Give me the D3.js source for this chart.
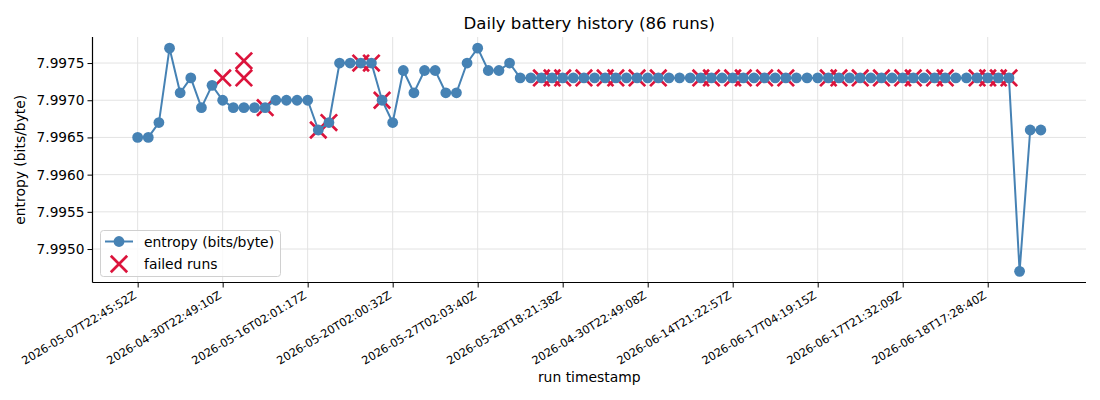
<!DOCTYPE html>
<html>
<head>
<meta charset="utf-8">
<script src="https://cdn.jsdelivr.net/npm/d3@7"></script>
<style>
  body { margin: 0; background: #fff; }
  text { font-family: "DejaVu Sans", sans-serif; fill: #000; }
</style>
</head>
<body>
<svg id="chart" width="1100" height="400"></svg>
<script>
// entropy per run, in run order
const entropy = [
  7.9965, 7.9965, 7.9967, 7.9977, 7.9971, 7.9973, 7.9969, 7.9972, 7.9970, 7.9969,
  7.9969, 7.9969, 7.9969, 7.9970, 7.9970, 7.9970, 7.9970, 7.9966, 7.9967, 7.9975,
  7.9975, 7.9975, 7.9975, 7.9970, 7.9967, 7.9974, 7.9971, 7.9974, 7.9974, 7.9971,
  7.9971, 7.9975, 7.9977, 7.9974, 7.9974, 7.9975, 7.9973, 7.9973, 7.9973, 7.9973,
  7.9973, 7.9973, 7.9973, 7.9973, 7.9973, 7.9973, 7.9973, 7.9973, 7.9973, 7.9973,
  7.9973, 7.9973, 7.9973, 7.9973, 7.9973, 7.9973, 7.9973, 7.9973, 7.9973, 7.9973,
  7.9973, 7.9973, 7.9973, 7.9973, 7.9973, 7.9973, 7.9973, 7.9973, 7.9973, 7.9973,
  7.9973, 7.9973, 7.9973, 7.9973, 7.9973, 7.9973, 7.9973, 7.9973, 7.9973, 7.9973,
  7.9973, 7.9973, 7.9973, 7.9947, 7.9966, 7.9966
];

// failed runs: position on the run axis and their entropy
const failedIndex = [
  8, 10, 10, 12, 17, 18, 21, 22, 23,
  38, 39, 40, 42, 44, 45, 47, 49, 53, 54, 56, 57, 59, 61,
  65, 66, 68, 70, 72, 73, 75, 76, 79, 80, 81, 82
];
const failedEntropy = [
  7.9973, 7.99753, 7.9973, 7.9969, 7.9966, 7.9967, 7.9975, 7.9975, 7.9970,
  7.9973, 7.9973, 7.9973, 7.9973, 7.9973, 7.9973, 7.9973, 7.9973, 7.9973, 7.9973,
  7.9973, 7.9973, 7.9973, 7.9973,
  7.9973, 7.9973, 7.9973, 7.9973, 7.9973, 7.9973, 7.9973, 7.9973, 7.9973, 7.9973,
  7.9973, 7.9973
];

// labelled ticks (every 8th run)
const tickIndex = [0, 8, 16, 24, 32, 40, 48, 56, 64, 72, 80];
const tickLabels = [
  "2026-05-07T22:45:52Z", "2026-04-30T22:49:10Z", "2026-05-16T02:01:17Z",
  "2026-05-20T02:00:32Z", "2026-05-27T02:03:40Z", "2026-05-28T18:21:38Z",
  "2026-04-30T22:49:08Z", "2026-06-14T21:22:57Z", "2026-06-17T04:19:15Z",
  "2026-06-17T21:32:09Z", "2026-06-18T17:28:40Z"
];
const yTicks = [7.9950, 7.9955, 7.9960, 7.9965, 7.9970, 7.9975];

const lineColor = "#4682b4";
const failColor = "#dc143c";
const plotLeft = 92.5, plotRight = 1086, plotTop = 37, plotBottom = 282.5;

const svg = d3.select("#chart");

const x = d3.scaleLinear().domain([-4.25, 89.25]).range([plotLeft, plotRight]);
const y = d3.scaleLinear().domain([7.99455, 7.99785]).range([plotBottom, plotTop]);

// grid
svg.append("g")
  .selectAll("line").data(tickIndex).enter().append("line")
  .attr("x1", d => x(d)).attr("x2", d => x(d))
  .attr("y1", plotTop).attr("y2", plotBottom)
  .attr("stroke", "#e3e3e3").attr("stroke-width", 1);
svg.append("g")
  .selectAll("line").data(yTicks).enter().append("line")
  .attr("x1", plotLeft).attr("x2", plotRight)
  .attr("y1", d => y(d)).attr("y2", d => y(d))
  .attr("stroke", "#e3e3e3").attr("stroke-width", 1);

// axes
const xAxis = svg.append("g")
  .attr("transform", `translate(0,${plotBottom})`)
  .call(d3.axisBottom(x).tickValues(tickIndex)
    .tickFormat((d, i) => tickLabels[i]).tickSize(5).tickSizeOuter(0));
xAxis.select(".domain").attr("stroke", "#000").attr("stroke-width", 1.2)
  .attr("d", `M${plotLeft},0H${plotRight}`);
xAxis.selectAll(".tick line").attr("stroke", "#000");
xAxis.selectAll(".tick text")
  .attr("font-size", "11.3px")
  .attr("font-family", "DejaVu Sans, sans-serif")
  .attr("text-anchor", "end")
  .attr("dy", null)
  .attr("y", 0)
  .attr("transform", "translate(-1,15) rotate(-31)");

const yAxis = svg.append("g")
  .attr("transform", `translate(${plotLeft},0)`)
  .call(d3.axisLeft(y).tickValues(yTicks).tickFormat(d3.format(".4f"))
    .tickSize(5).tickSizeOuter(0));
yAxis.select(".domain").attr("stroke", "#000").attr("stroke-width", 1.2)
  .attr("d", `M0,${plotTop}V${plotBottom}`);
yAxis.selectAll(".tick line").attr("stroke", "#000");
yAxis.selectAll(".tick text")
  .attr("font-size", "13.7px")
  .attr("font-family", "DejaVu Sans, sans-serif")
  .attr("x", -8);

// failed-run crosses
const crossPath = s => `M${-s},${-s}L${s},${s}M${-s},${s}L${s},${-s}`;
svg.append("g")
  .selectAll("path").data(failedIndex).enter().append("path")
  .attr("transform", (d, i) => `translate(${x(d)},${y(failedEntropy[i])})`)
  .attr("d", crossPath(8.2))
  .attr("stroke", failColor)
  .attr("stroke-width", 2.7)
  .attr("fill", "none");

// entropy line and markers
const line = d3.line().x((d, i) => x(i)).y(d => y(d));
svg.append("path")
  .datum(entropy)
  .attr("d", line)
  .attr("fill", "none")
  .attr("stroke", lineColor)
  .attr("stroke-width", 2);
svg.append("g")
  .selectAll("circle").data(entropy).enter().append("circle")
  .attr("cx", (d, i) => x(i))
  .attr("cy", d => y(d))
  .attr("r", 5.4)
  .attr("fill", lineColor);

// labels
svg.append("text")
  .attr("x", (plotLeft + plotRight) / 2).attr("y", 29)
  .attr("text-anchor", "middle")
  .attr("font-size", "16.6px")
  .text("Daily battery history (86 runs)");
svg.append("text")
  .attr("x", (plotLeft + plotRight) / 2).attr("y", 382)
  .attr("text-anchor", "middle")
  .attr("font-size", "13.9px")
  .text("run timestamp");
svg.append("text")
  .attr("transform", `translate(25,${(plotTop + plotBottom) / 2}) rotate(-90)`)
  .attr("text-anchor", "middle")
  .attr("font-size", "13.9px")
  .text("entropy (bits/byte)");

// legend
const legend = svg.append("g").attr("transform", "translate(100,230)");
legend.append("rect")
  .attr("x", 0.5).attr("y", 0.5)
  .attr("width", 180).attr("height", 46)
  .attr("rx", 3)
  .attr("fill", "rgba(255,255,255,0.8)")
  .attr("stroke", "#d0d0d0");
legend.append("line")
  .attr("x1", 5).attr("x2", 33).attr("y1", 11.5).attr("y2", 11.5)
  .attr("stroke", lineColor).attr("stroke-width", 2);
legend.append("circle")
  .attr("cx", 19).attr("cy", 11.5).attr("r", 5.4).attr("fill", lineColor);
legend.append("path")
  .attr("transform", "translate(19,34)")
  .attr("d", crossPath(8.2))
  .attr("stroke", failColor).attr("stroke-width", 2.7).attr("fill", "none");
legend.append("text")
  .attr("x", 44).attr("y", 16.5).attr("font-size", "13.9px")
  .text("entropy (bits/byte)");
legend.append("text")
  .attr("x", 44).attr("y", 39).attr("font-size", "13.9px")
  .text("failed runs");
</script>
</body>
</html>
